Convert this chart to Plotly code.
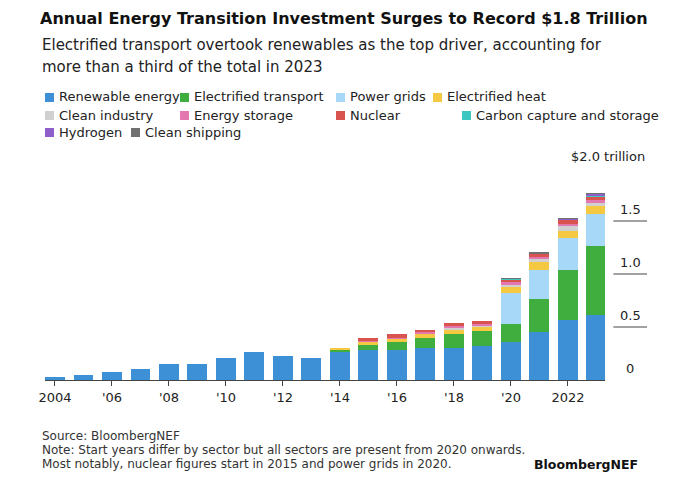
import plotly.graph_objects as go

years = list(range(2004, 2024))
renewable = [0.03,0.05,0.08,0.10,0.15,0.15,0.21,0.26,0.23,0.21,0.27,0.28,0.28,0.30,0.30,0.32,0.36,0.45,0.57,0.61]
transport = [0]*10 + [0.01,0.05,0.08,0.10,0.13,0.14,0.17,0.31,0.47,0.65]
grids     = [0]*16 + [0.29,0.28,0.30,0.31]
heat      = [0]*10 + [0.02,0.035,0.03,0.04,0.05,0.04,0.06,0.07,0.07,0.07]
industry  = [0]*14 + [0.01,0.01,0.02,0.03,0.04,0.03]
storage   = [0]*11 + [0.005,0.01,0.01,0.02,0.02,0.02,0.02,0.02,0.03]
nuclear   = [0]*11 + [0.03,0.03,0.02,0.03,0.03,0.03,0.03,0.04,0.035]
ccs       = [0]*16 + [0.003,0.005,0.008,0.01]
hydrogen  = [0]*16 + [0.002,0.003,0.005,0.01]
shipping  = [0]*16 + [0.001,0.002,0.003,0.005]

names = ["Renewable energy","Electrified transport","Power grids","Electrified heat",
         "Clean industry","Energy storage","Nuclear","Carbon capture and storage",
         "Hydrogen","Clean shipping"]
colors = ["#3d8fd6","#3fae3f","#a8d8f8","#f5c842","#d0d0d0","#e377b0","#d9534f","#3cc8c0","#8e5fc8","#707070"]
series = [renewable,transport,grids,heat,industry,storage,nuclear,ccs,hydrogen,shipping]

tick_vals = [2004,2006,2008,2010,2012,2014,2016,2018,2020,2022]
tick_text = ["2004","'06","'08","'10","'12","'14","'16","'18","'20","2022"]
y_vals = [0,0.5,1.0,1.5]
y_text = ["0","0.5","1.0","1.5"]

FONT = "DejaVu Sans, Liberation Sans, Arial"
fig = go.Figure()
for n,c,s in zip(names,colors,series):
    fig.add_bar(x=years,y=s,name=n,marker_color=c,marker_line_width=0,showlegend=False)

OFF = 8
L,R,T,B,W,H = 45-OFF,75+OFF,168-OFF,115+OFF,680,495
pw, ph = W-L-R, H-T-B
def px(x): return (x-OFF-L)/pw
def py(y): return (H-B-(y-OFF))/ph

fig.update_layout(
    barmode="stack", bargap=0.3, width=W, height=H,
    margin=dict(l=L,r=R,t=T,b=B), plot_bgcolor="white", paper_bgcolor="white",
    font=dict(family=FONT, color="#222"),
    xaxis=dict(range=[2003.65,2023.3], tickvals=tick_vals, ticktext=tick_text,
               showgrid=False, ticks="outside", ticklen=5, tickcolor="#444",
               showline=True, linecolor="#444", tickfont=dict(size=13)),
    yaxis=dict(range=[0,2.0], showgrid=False, showticklabels=False, zeroline=False),
)
for v,t in zip(y_vals,y_text):
    fig.add_annotation(x=1.045, y=v, xref="paper", yref="y", text=t, showarrow=False,
                       xanchor="center", yanchor="bottom", yshift=2, font=dict(size=13))
    if v>0:
        fig.add_shape(type="line", xref="paper", yref="y", x0=1.015, x1=1.075, y0=v, y1=v,
                      line=dict(color="#444", width=1))
fig.add_annotation(x=1.075, y=2.0, xref="paper", yref="y", text="$2.0 trillion", showarrow=False,
                   xanchor="right", yanchor="bottom", yshift=2, font=dict(size=13))

pos = [(45,97),(180,97),(336,97),(433,97),(45,115),(180,115),(336,115),(462,115),(45,132),(131,132)]
for (x,y),n,c in zip(pos,names,colors):
    fig.add_shape(type="rect", xref="paper", yref="paper", x0=px(x), x1=px(x+9),
                  y0=py(y+5), y1=py(y-4), fillcolor=c, line_width=0)
    fig.add_annotation(x=px(x+12), y=py(y), xref="paper", yref="paper", text=n, showarrow=False,
                       xanchor="left", yanchor="middle", font=dict(size=13))

def txt(x, y, t, size, anchor="left", color="#222"):
    fig.add_annotation(x=px(x), y=py(y), xref="paper", yref="paper", showarrow=False,
                       text=t, xanchor=anchor, yanchor="middle", font=dict(size=size, color=color))

txt(38, 18, "<b>Annual Energy Transition Investment Surges to Record $1.8 Trillion</b>", 16, color="#111")
txt(40, 45, "Electrified transport overtook renewables as the top driver, accounting for", 15)
txt(40, 67, "more than a third of the total in 2023", 15)
txt(40, 436, "Source: BloombergNEF", 12, color="#333")
txt(40, 450, "Note: Start years differ by sector but all sectors are present from 2020 onwards.", 12, color="#333")
txt(40, 464, "Most notably, nuclear figures start in 2015 and power grids in 2020.", 12, color="#333")
txt(640, 464, "<b>BloombergNEF</b>", 12.5, anchor="right", color="#111")

fig.write_html("out.html")
